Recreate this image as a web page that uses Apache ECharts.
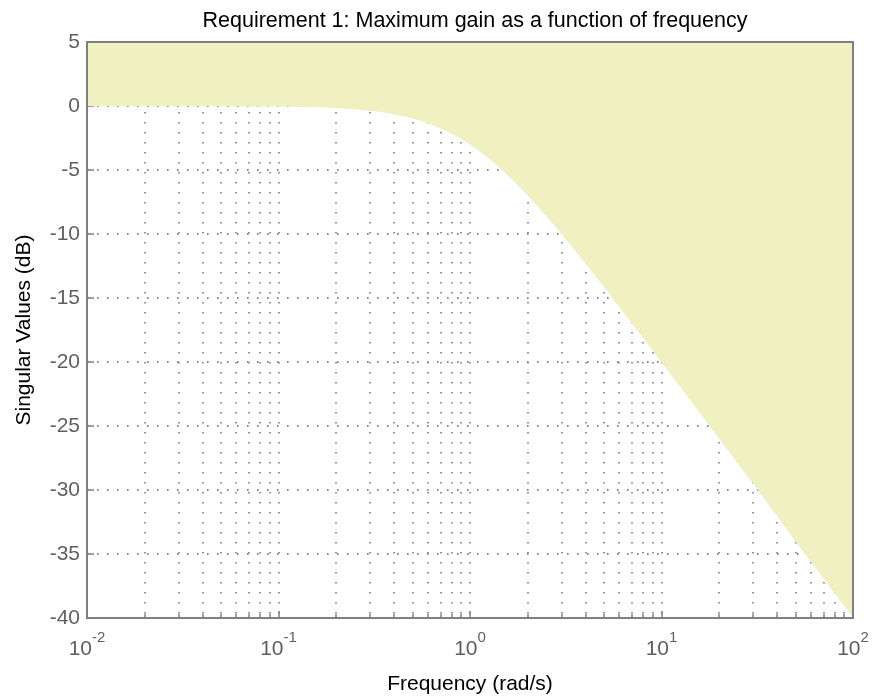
<!DOCTYPE html>
<html>
<head>
<meta charset="utf-8">
<script src="https://cdn.jsdelivr.net/npm/echarts@6/dist/echarts.min.js"></script>
<style>
html,body{margin:0;padding:0;background:#fff;}
#c{width:880px;height:696px;}
</style>
</head>
<body>
<div id="c"></div>
<script>
// Frequency (rad/s) and maximum-gain requirement boundary (dB)
const frequency = [0.01, 0.05, 0.1, 0.15, 0.2, 0.3, 0.4, 0.5, 0.6, 0.7, 0.8, 1, 1.25, 1.5, 2, 2.5, 3, 4, 5, 7, 10, 15, 20, 30, 50, 70, 100];
const maxGain   = [0, -0.01, -0.04, -0.1, -0.17, -0.37, -0.64, -0.97, -1.34, -1.73, -2.15, -3.01, -4.09, -5.12, -6.99, -8.6, -10.0, -12.3, -14.15, -17.0, -20.04, -23.5, -26.0, -29.5, -34.0, -36.9, -40.0];
const yTicks = [-40, -35, -30, -25, -20, -15, -10, -5, 0, 5];
const xDecades = [0.01, 0.1, 1, 10, 100];
const titleText = 'Requirement 1: Maximum gain as a function of frequency';
const xName = 'Frequency (rad/s)';
const yName = 'Singular Values (dB)';

const FONT = 'Liberation Sans, Arial, sans-serif';
const AX = '#7f7f7f';
const LBL = '#5f5f5f';
const GRIDC = '#8a8a8a';
const DOT = [1.6, 8.4];

const chart = echarts.init(document.getElementById('c'), null, {renderer: 'canvas'});
const lineData = frequency.map((f, i) => [f, maxGain[i]]);

chart.setOption({
  animation: false,
  backgroundColor: '#fff',
  title: {
    text: titleText, left: 470, top: 5, textAlign: 'center',
    textStyle: {fontFamily: FONT, fontSize: 21.5, fontWeight: 'normal', color: '#000'}
  },
  grid: {left: 87, right: 27, top: 42, bottom: 78, containLabel: false, outerBoundsMode: 'none'},
  xAxis: [
    {
      type: 'log', logBase: 10, min: xDecades[0], max: xDecades[xDecades.length - 1],
      position: 'bottom', z: 0,
      name: xName, nameLocation: 'middle', nameGap: 56,
      nameTextStyle: {fontFamily: FONT, fontSize: 21, color: '#000'},
      axisLine: {show: true, onZero: false, lineStyle: {color: AX, width: 2}},
      axisTick: {show: true, inside: true, length: 7, lineStyle: {color: AX, width: 1.5}},
      minorTick: {show: true, splitNumber: 9, length: 4, lineStyle: {color: AX, width: 1.5}},
      splitLine: {show: true, lineStyle: {color: GRIDC, width: 1.8, type: DOT}},
      minorSplitLine: {show: true, lineStyle: {color: GRIDC, width: 1.8, type: DOT}},
      axisLabel: {
        margin: 8,
        formatter: function (v) { return '{b|10}{s|' + Math.round(Math.log10(v)) + '}'; },
        rich: {
          b: {fontFamily: FONT, fontSize: 21, color: LBL, lineHeight: 34, verticalAlign: 'bottom'},
          s: {fontFamily: FONT, fontSize: 15, color: LBL, lineHeight: 16, verticalAlign: 'top', padding: [4, 0, 0, 0]}
        }
      }
    },
    {
      type: 'log', logBase: 10, min: xDecades[0], max: xDecades[xDecades.length - 1],
      position: 'top', z: 10,
      axisLine: {show: true, onZero: false, lineStyle: {color: AX, width: 2}},
      axisTick: {show: false}, axisLabel: {show: false}, splitLine: {show: false}
    }
  ],
  yAxis: [
    {
      type: 'value', min: yTicks[0], max: yTicks[yTicks.length - 1], interval: 5,
      position: 'left', z: 0,
      name: yName, nameLocation: 'middle', nameGap: 52, nameRotate: 90,
      nameTextStyle: {fontFamily: FONT, fontSize: 21, color: '#000'},
      axisLine: {show: true, onZero: false, lineStyle: {color: AX, width: 2}},
      axisTick: {show: true, inside: true, length: 7, lineStyle: {color: AX, width: 1.5}},
      splitLine: {show: true, lineStyle: {color: GRIDC, width: 1.8, type: DOT}},
      axisLabel: {margin: 7, fontFamily: FONT, fontSize: 21, color: LBL}
    },
    {
      type: 'value', min: yTicks[0], max: yTicks[yTicks.length - 1], interval: 5,
      position: 'left', z: 10,
      axisLine: {show: true, onZero: false, lineStyle: {color: AX, width: 2}},
      axisTick: {show: false}, axisLabel: {show: false}, splitLine: {show: false}
    },
    {
      type: 'value', min: yTicks[0], max: yTicks[yTicks.length - 1], interval: 5,
      position: 'right', z: 10,
      axisLine: {show: true, onZero: false, lineStyle: {color: AX, width: 2}},
      axisTick: {show: false}, axisLabel: {show: false}, splitLine: {show: false}
    }
  ],
  series: [
    {
      type: 'line', xAxisIndex: 0, yAxisIndex: 0, z: 2,
      data: lineData, showSymbol: false, smooth: 0.3,
      lineStyle: {width: 0},
      areaStyle: {origin: 'end', color: '#f0f0c0', opacity: 1},
      silent: true
    }
  ]
});
</script>
</body>
</html>
